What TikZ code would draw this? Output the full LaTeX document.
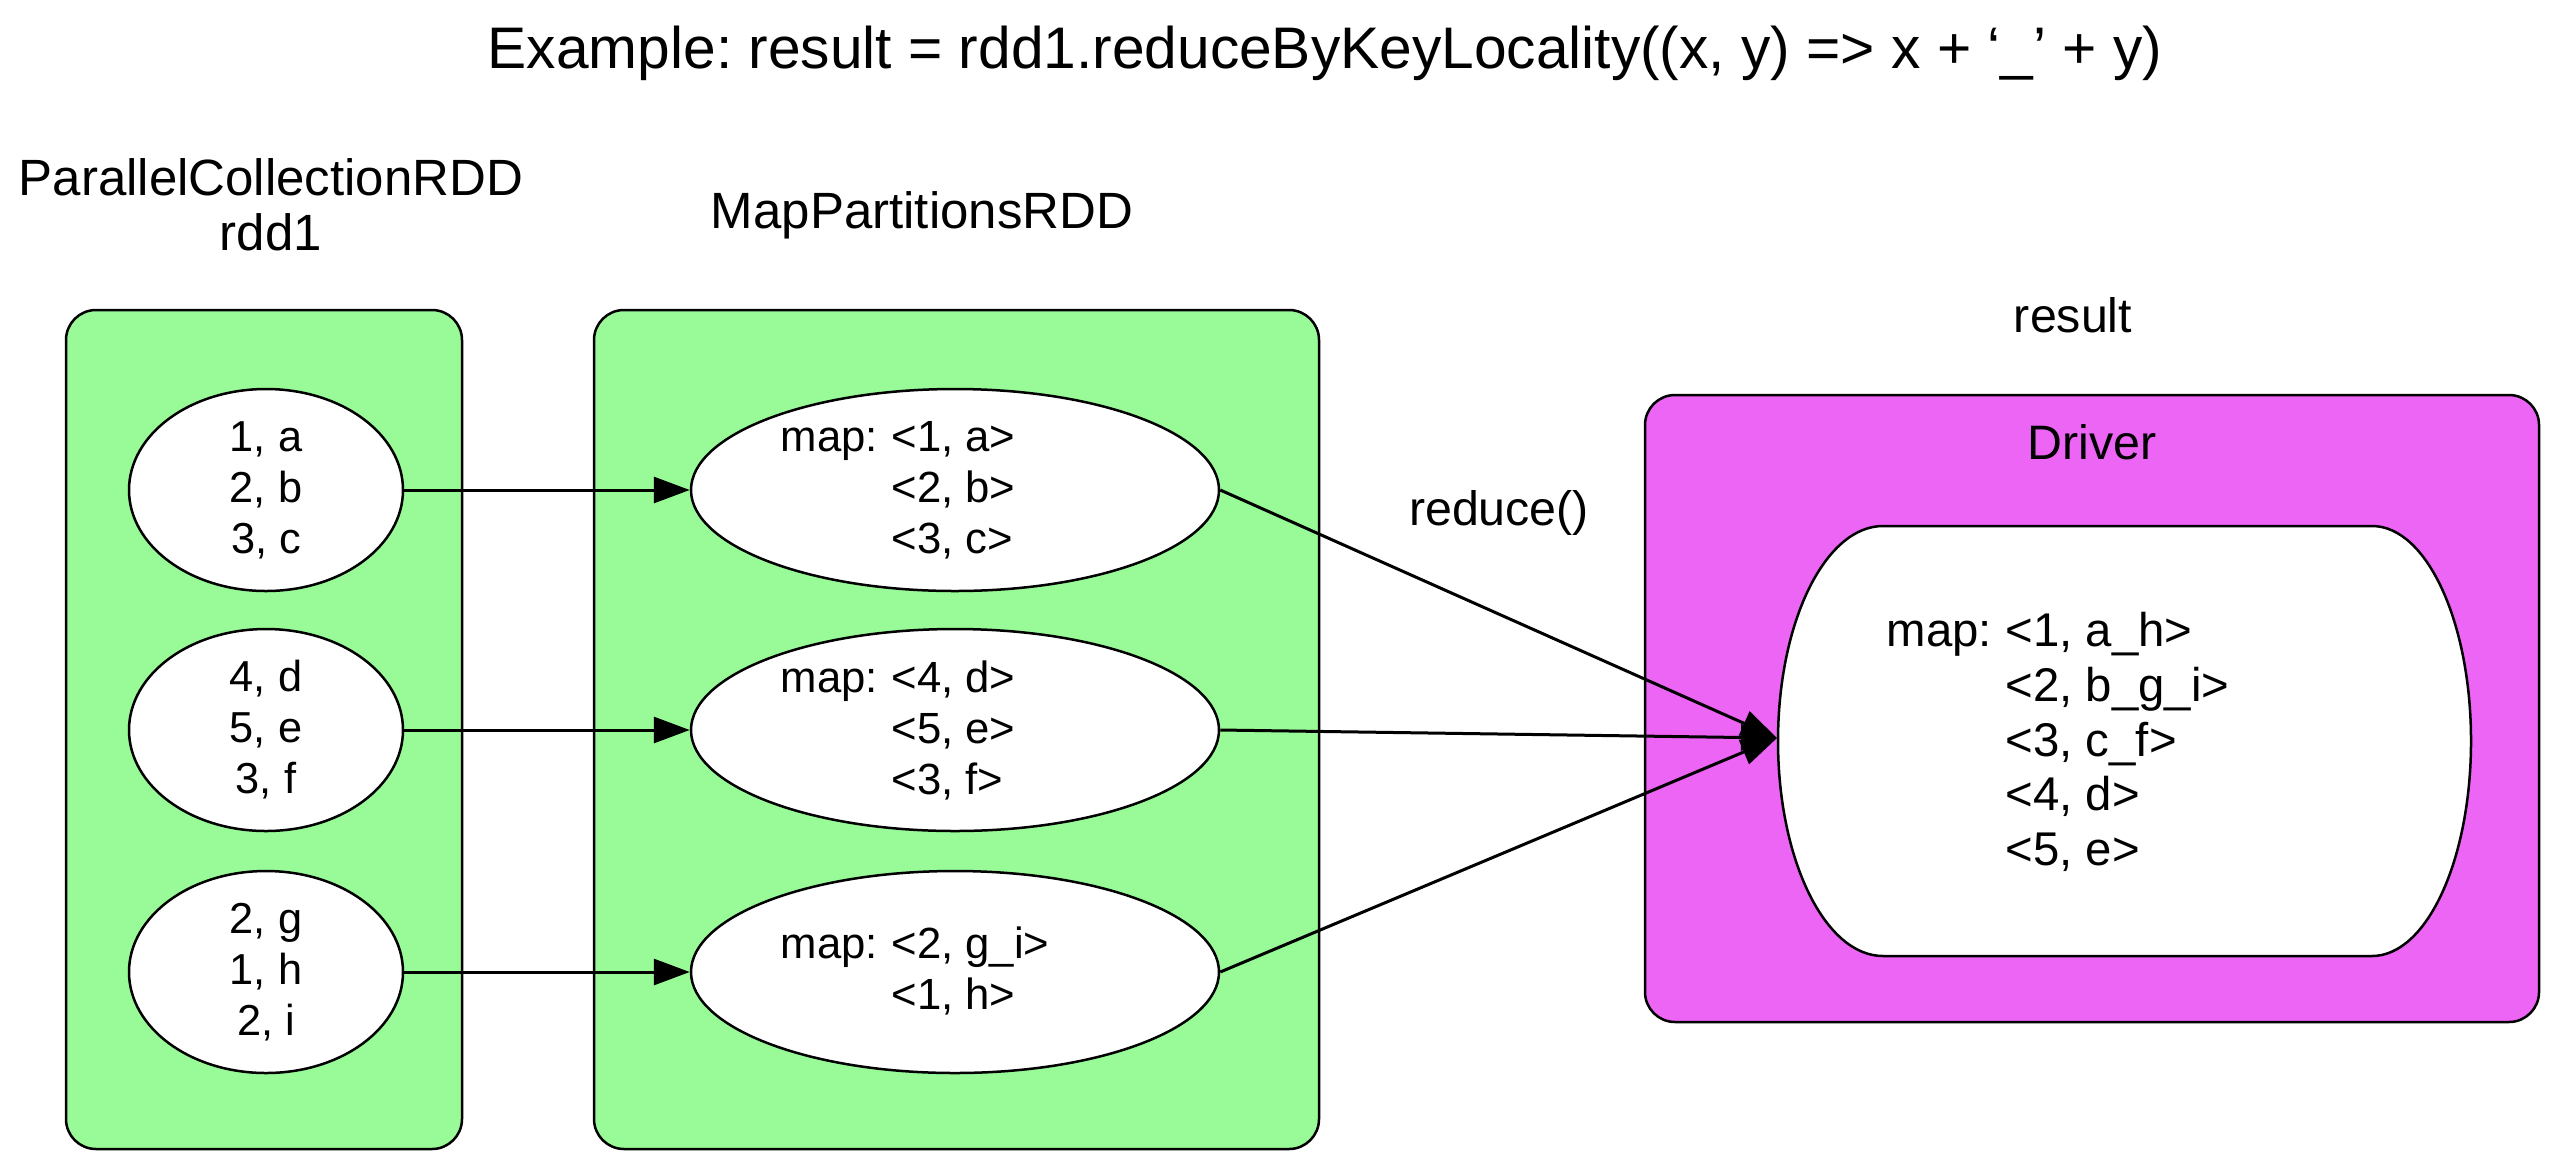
\documentclass[tikz,border=0pt]{standalone}
\usepackage{fontspec}
\setmainfont{Liberation Sans}
\usetikzlibrary{arrows.meta,shapes.geometric}
\definecolor{pgreen}{RGB}{152,251,152}
\definecolor{pmag}{RGB}{236,101,245}
\frenchspacing
\begin{document}
\begin{tikzpicture}[x=0.3pt,y=-0.3pt,
  box/.style={draw=black, line width=0.75pt, rounded corners=9pt},
  ell/.style={ellipse, draw=black, fill=white, line width=0.75pt, inner sep=0pt},
  lbl/.style={font=\fontsize{14.5}{17}\selectfont, inner sep=0pt, anchor=base},
  hdr/.style={font=\fontsize{15.3}{18}\selectfont, inner sep=0pt, anchor=base},
  txt/.style={font=\fontsize{13}{15.3}\selectfont, inner sep=0pt},
  mtxt/.style={font=\fontsize{13.1}{15.3}\selectfont, inner sep=0pt, anchor=west, align=left},
  arr/.style={-{Triangle[length=10.8pt,width=7.8pt]}, line width=0.9pt}]
\useasboundingbox (0,0) rectangle (2556,1164);
% title
\node[font=\fontsize{17.6}{20}\selectfont, inner sep=0pt, anchor=base] (title) at (1325,68)
  {Example: result = rdd1.reduceByKeyLocality((x, y) => x + ‘\_’ + y)};
% headers
\node[hdr] (pch1) at (271,195) {ParallelCollectionRDD};
\node[hdr] (pch2) at (271,250) {rdd1};
\node[hdr] (mph) at (922,228) {MapPartitionsRDD};
\node[lbl] (resh) at (2073,332) {result};
% containers
\draw[box, fill=pgreen] (66,310) rectangle (462,1149);
\draw[box, fill=pgreen] (594,310) rectangle (1319,1149);
\draw[box, fill=pmag] (1645,395) rectangle (2539,1022);
\node[lbl] (drvh) at (2092,459) {Driver};
% driver inner shape
\draw[fill=white, line width=0.75pt]
  (1883,526) -- (2372,526)
  arc[start angle=-90, end angle=90, x radius=99, y radius=215]
  -- (1883,956)
  arc[start angle=90, end angle=270, x radius=105, y radius=215] -- cycle;
\coordinate (drvL) at (1777,738);
\node[mtxt, font=\fontsize{14.2}{16.4}\selectfont] (drvt) at (1886,742)
  {\makebox[35.7pt][l]{map:}<1, a\_h>\\
   \hspace*{35.7pt}<2, b\_g\_i>\\
   \hspace*{35.7pt}<3, c\_f>\\
   \hspace*{35.7pt}<4, d>\\
   \hspace*{35.7pt}<5, e>};
% left ellipses
\node[ell, minimum width=82.2pt, minimum height=60.6pt, txt, align=center] (p1) at (266,490) {1, a\\2, b\\3, c};
\node[ell, minimum width=82.2pt, minimum height=60.6pt, txt, align=center] (p2) at (266,730) {4, d\\5, e\\3, f};
\node[ell, minimum width=82.2pt, minimum height=60.6pt, txt, align=center] (p3) at (266,972) {2, g\\1, h\\2, i};
% middle ellipses
\node[ell, minimum width=158.4pt, minimum height=60.6pt] (m1) at (955,490) {};
\node[ell, minimum width=158.4pt, minimum height=60.6pt] (m2) at (955,730) {};
\node[ell, minimum width=158.4pt, minimum height=60.6pt] (m3) at (955,972) {};
\node[mtxt] (m1t) at (780,490)
  {\makebox[33.3pt][l]{map:}<1, a>\\\hspace*{33.3pt}<2, b>\\\hspace*{33.3pt}<3, c>};
\node[mtxt] (m2t) at (780,730)
  {\makebox[33.3pt][l]{map:}<4, d>\\\hspace*{33.3pt}<5, e>\\\hspace*{33.3pt}<3, f>};
\node[mtxt] (m3t) at (780,971)
  {\makebox[33.3pt][l]{map:}<2, g\_i>\\\hspace*{33.3pt}<1, h>};
% arrows
\draw[arr] (p1.east) -- (m1.west);
\draw[arr] (p2.east) -- (m2.west);
\draw[arr] (p3.east) -- (m3.west);
\draw[arr] (m1.east) -- (drvL);
\draw[arr] (m2.east) -- (drvL);
\draw[arr] (m3.east) -- (drvL);
\node[lbl] (red) at (1499,525) {reduce()};
\end{tikzpicture}
\end{document}
